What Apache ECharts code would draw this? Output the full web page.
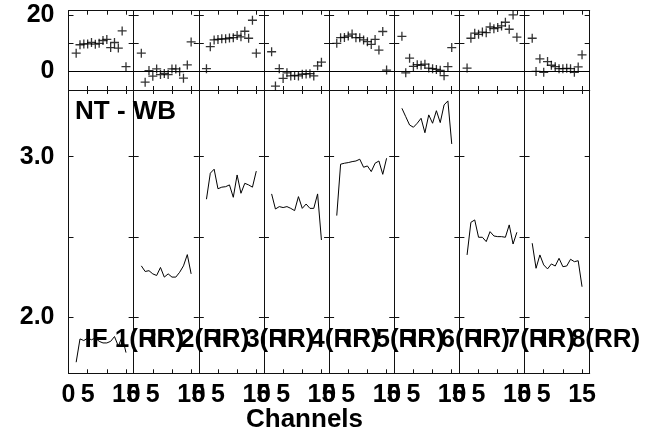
<!DOCTYPE html>
<html><head><meta charset="utf-8">
<script src="https://cdn.jsdelivr.net/npm/echarts@6/dist/echarts.min.js"></script>
<style>html,body{margin:0;padding:0;background:#fff}#c{width:645px;height:431px}</style>
</head><body><div id="c"></div>
<script>
// ---- data ----
const channels = [2,3,4,5,6,7,8,9,10,11,12,13,14,15];
const ifLabels = ['IF 1(RR)','IF 2(RR)','IF 3(RR)','IF 4(RR)','IF 5(RR)','IF 6(RR)','IF 7(RR)','IF 8(RR)'];
const xTickValues = [0,5,10,15];
const xLabelValues = [0,5,15];
const topTickValues = [0,10,20];
const topLabelValues = [0,20];
const botTickValues = [2.0,2.5,3.0];
const botLabelValues = [2.0,3.0];
const zeroLine = 0;
const titleText = 'NT - WB';
const xName = 'Channels';

// top (crosses) per IF
const top1 = [6.5,9.5,9.8,9.8,10.3,9.7,10.0,11.0,11.4,8.5,10.3,8.3,14.4,1.7];
const top2 = [6.5,-3.8,0.3,-1.7,0.9,-1.1,-0.7,-1.1,0.9,0.9,-0.1,-2.4,2.3,10.5];
const top3 = [1.0,8.8,11.2,11.4,11.6,11.6,11.9,12.0,12.8,12.3,14.3,11.8,18.2,6.5];
const top4 = [7.0,-5.2,1.0,-2.5,-0.5,-1.6,-1.4,-1.6,-1.0,-0.9,-0.8,-1.6,2.0,3.3];
const top5 = [10.0,12.0,12.1,12.6,13.3,12.0,12.0,11.2,10.6,9.6,11.4,7.6,14.2,0.5];
const top6 = [12.5,-0.5,4.7,1.8,2.4,2.2,2.6,1.2,1.0,0.7,0.4,-1.5,1.7,8.5];
const top7 = [1.2,11.8,13.6,13.2,14.0,13.8,15.8,15.2,15.6,16.2,17.5,15.0,20.1,12.2];
const top8 = [11.8,0.0,4.5,-0.3,3.5,2.2,1.7,1.0,1.0,1.1,1.0,-0.3,1.6,5.9];

// bottom (lines) per IF
const bot1 = [1.72,1.865,1.855,1.87,1.86,1.87,1.85,1.84,1.84,1.85,1.88,1.82,1.88,1.78];
const bot2 = [2.32,2.285,2.29,2.27,2.26,2.31,2.25,2.27,2.25,2.25,2.28,2.32,2.39,2.27];
const bot3 = [2.735,2.897,2.922,2.80,2.81,2.813,2.824,2.747,2.886,2.772,2.834,2.824,2.81,2.91];
const bot4 = [2.768,2.674,2.689,2.683,2.689,2.678,2.664,2.751,2.678,2.705,2.678,2.678,2.768,2.481];
const bot5 = [2.633,2.953,2.959,2.963,2.969,2.973,2.984,2.934,2.942,2.907,2.959,2.973,2.89,2.99];
const bot6 = [3.301,3.249,3.197,3.183,3.208,3.239,3.149,3.26,3.208,3.286,3.212,3.322,3.347,3.079];
const bot7 = [2.388,2.591,2.606,2.498,2.498,2.471,2.533,2.506,2.502,2.502,2.498,2.575,2.456,2.529];
const bot8 = [2.461,2.305,2.388,2.326,2.301,2.332,2.319,2.367,2.315,2.319,2.361,2.346,2.352,2.19];

const xRange = [0,17];
const topRange = [-6.6,21.6];
const botRange = [1.651,3.415];

// ---- layout ----
const topData = [top1,top2,top3,top4,top5,top6,top7,top8];
const botData = [bot1,bot2,bot3,bot4,bot5,bot6,bot7,bot8];
const L = 68.5, R = 589.7, N = 8, W = (R - L) / N;
const TT = 10.7, TB = 90, BB = 373.3;
const FONT = 'Liberation Sans, Arial, Helvetica, sans-serif';
const FS = 25;
const TFS = 26;
const lineCol = '#111';

const grids = [], xAxes = [], yAxes = [], series = [], titles = [];

function xAx(gi, pos, labels) {
  return {
    type: 'value', gridIndex: gi, position: pos, min: xRange[0], max: xRange[1],
    axisLine: {show: true, onZero: false, lineStyle: {color: lineCol, width: 1}},
    axisTick: {show: true, inside: true, length: 4, customValues: xTickValues, lineStyle: {color: lineCol}},
    axisLabel: labels ? {show: true, customValues: xLabelValues, margin: 9, color: '#000',
      fontFamily: FONT, fontWeight: 'bold', fontSize: FS, formatter: v => String(v)} : {show: false},
    splitLine: {show: false}
  };
}
function yAx(gi, pos, range, ticks, labelVals, labels, fmt) {
  return {
    type: 'value', gridIndex: gi, position: pos, min: range[0], max: range[1],
    axisLine: {show: true, onZero: false, lineStyle: {color: lineCol, width: 1}},
    axisTick: {show: true, inside: true, length: 5, customValues: ticks, lineStyle: {color: lineCol}},
    axisLabel: labels ? {show: true, customValues: labelVals, margin: 14, color: '#000',
      fontFamily: FONT, fontWeight: 'bold', fontSize: FS, formatter: fmt} : {show: false},
    splitLine: {show: false}
  };
}

for (let i = 0; i < N; i++) {
  const left = L + i * W;
  const gTop = grids.length;
  grids.push({left: left, top: TT, width: W, height: TB - TT, show: false});
  const gBot = grids.length;
  grids.push({left: left, top: TB, width: W, height: BB - TB, show: false});

  const xt = xAxes.length;
  xAxes.push(xAx(gTop, 'bottom', false));
  xAxes.push(xAx(gTop, 'top', false));
  const xb = xAxes.length;
  xAxes.push(xAx(gBot, 'bottom', true));
  xAxes.push(xAx(gBot, 'top', false));

  const yt = yAxes.length;
  yAxes.push(yAx(gTop, 'left', topRange, topTickValues, topLabelValues, i === 0, v => String(v)));
  yAxes.push(yAx(gTop, 'right', topRange, topTickValues, topLabelValues, false));
  const yb = yAxes.length;
  yAxes.push(yAx(gBot, 'left', botRange, botTickValues, botLabelValues, i === 0, v => v.toFixed(1)));
  yAxes.push(yAx(gBot, 'right', botRange, botTickValues, botLabelValues, false));

  series.push({
    type: 'scatter', xAxisIndex: xt, yAxisIndex: yt,
    data: channels.map((c, k) => [c, topData[i][k]]),
    symbol: 'path://M5,0 L5,10 M0,5 L10,5', symbolSize: 9,
    itemStyle: {color: 'none', borderColor: '#000', borderWidth: 1.3},
    silent: true, animation: false,
    markLine: {silent: true, symbol: 'none', label: {show: false},
      lineStyle: {color: '#000', width: 1, type: 'solid'}, data: [{yAxis: zeroLine}]}
  });
  series.push({
    type: 'line', xAxisIndex: xb, yAxisIndex: yb,
    data: channels.map((c, k) => [c, botData[i][k]]),
    showSymbol: false, symbol: 'none', silent: true, animation: false,
    lineStyle: {color: '#000', width: 1}
  });

  titles.push({text: ifLabels[i], left: left + 16, top: 327, padding: 0,
    textStyle: {fontFamily: FONT, fontWeight: 'bold', fontSize: TFS, color: '#000', lineHeight: TFS}});
}
titles.push({text: titleText, left: 75, top: 99, padding: 0,
  textStyle: {fontFamily: FONT, fontWeight: 'bold', fontSize: TFS, color: '#000', lineHeight: TFS}});
titles.push({text: xName, left: 246, top: 407, padding: 0,
  textStyle: {fontFamily: FONT, fontWeight: 'bold', fontSize: TFS, color: '#000', lineHeight: TFS}});

const chart = echarts.init(document.getElementById('c'), null, {renderer: 'canvas'});
chart.setOption({
  backgroundColor: '#fff', animation: false,
  title: titles, grid: grids, xAxis: xAxes, yAxis: yAxes, series: series
});
</script></body></html>
